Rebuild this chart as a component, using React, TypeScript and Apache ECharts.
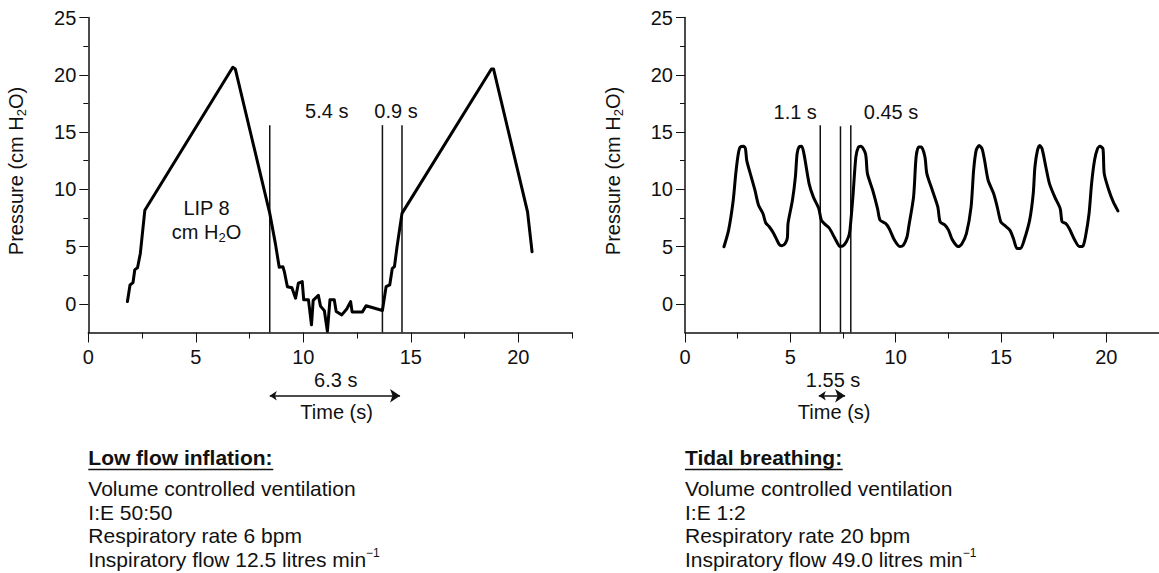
import React, { useEffect, useRef } from 'react';
import * as echarts from 'echarts';

// ---------- data ----------
const leftPressure: number[][] = [
  [1.82, 0.2], [1.94, 1.65], [2.08, 1.86], [2.16, 2.96], [2.29, 3.16], [2.42, 4.4], [2.63, 8.18],
  [6.72, 20.65], [6.84, 20.5], [8.44, 7.9], [8.7, 5.28], [8.88, 3.2], [9.05, 3.25], [9.12, 2.8],
  [9.26, 1.5], [9.47, 1.4], [9.64, 0.5], [9.77, 1.8], [9.95, 1.94], [10.02, 0.35], [10.24, 0.35],
  [10.38, -1.83], [10.46, 0.3], [10.7, 0.75], [10.8, -0.2], [10.98, -0.6], [11.12, -2.4],
  [11.24, 0.35], [11.44, 0.35], [11.53, -0.67], [11.79, -0.96], [12.02, -0.45], [12.2, 0.2],
  [12.27, -0.7], [12.75, -0.7], [12.92, -0.17], [13.68, -0.58], [13.85, 1.5], [14.02, 1.65],
  [14.14, 3.1], [14.24, 3.25], [14.36, 5.0], [14.59, 7.9], [18.75, 20.5], [18.85, 20.5],
  [20.43, 8.03], [20.64, 4.55],
];

const rightPressure: number[][] = [
  [1.85, 4.99], [2.07, 6.44], [2.29, 9.05], [2.41, 11.37], [2.53, 13.1], [2.62, 13.69], [2.79, 13.75],
  [2.87, 13.54], [2.93, 12.53], [3.1, 11.37], [3.32, 9.92], [3.49, 8.61], [3.7, 7.89], [3.83, 7.08],
  [4.0, 6.73], [4.21, 6.15], [4.47, 5.19], [4.6, 5.08], [4.76, 5.28], [4.86, 5.77], [4.89, 7.02],
  [5.1, 9.05], [5.24, 11.08], [5.32, 13.1], [5.41, 13.69], [5.54, 13.75], [5.66, 12.96], [5.89, 10.5],
  [6.09, 9.34], [6.35, 8.32], [6.47, 7.31], [6.64, 6.96], [6.86, 6.58], [7.12, 5.71], [7.37, 5.0],
  [7.55, 5.13], [7.75, 5.8], [7.83, 6.44], [7.97, 9.34], [8.11, 12.82], [8.23, 13.69], [8.35, 13.75],
  [8.57, 13.1], [8.66, 11.37], [8.91, 9.92], [9.14, 8.32], [9.26, 7.31], [9.52, 7.02], [9.69, 6.58],
  [9.94, 5.57], [10.2, 5.0], [10.37, 5.13], [10.54, 5.86], [10.62, 6.73], [10.85, 9.34], [10.97, 12.82],
  [11.09, 13.69], [11.22, 13.69], [11.39, 12.82], [11.48, 11.37], [11.74, 9.92], [12.0, 8.47],
  [12.11, 7.16], [12.34, 6.87], [12.51, 6.44], [12.68, 5.63], [12.97, 5.0], [13.14, 5.22], [13.36, 6.15],
  [13.58, 8.47], [13.7, 11.66], [13.82, 13.4], [13.96, 13.83], [14.1, 13.54], [14.22, 12.53],
  [14.39, 10.79], [14.65, 9.63], [14.82, 8.47], [14.99, 7.16], [15.16, 6.87], [15.42, 6.44],
  [15.59, 5.71], [15.76, 4.84], [15.93, 4.84], [16.1, 5.57], [16.36, 7.31], [16.53, 9.63],
  [16.61, 11.95], [16.73, 13.4], [16.84, 13.83], [16.95, 13.54], [17.13, 11.95], [17.3, 10.5],
  [17.55, 9.34], [17.81, 8.32], [17.9, 7.16], [18.07, 7.02], [18.24, 6.58], [18.5, 5.57], [18.72, 5.0],
  [18.89, 5.05], [19.01, 5.86], [19.18, 7.89], [19.3, 10.5], [19.44, 12.53], [19.58, 13.54],
  [19.7, 13.75], [19.84, 13.54], [19.9, 11.37], [20.12, 9.92], [20.33, 8.9], [20.55, 8.12],
];

const leftMarkers = [8.44, 13.68, 14.59];
const leftMarkerTops = [15.6, 15.6, 15.6];
const rightMarkers = [6.42, 7.38, 7.87];
const rightMarkerTops = [15.6, 15.5, 15.6];

const yMajorTicks = [0, 5, 10, 15, 20, 25];
const yMinorTicks = [2.5, 7.5, 12.5, 17.5, 22.5];
const xMajorTicks = [0, 5, 10, 15, 20];
const xMinorTicks = [2.5, 7.5, 12.5, 17.5, 22.5];

const leftLabels = [
  { x: 11.09, y: 16.8, text: '5.4 s' },
  { x: 14.31, y: 16.8, text: '0.9 s' },
  { x: 5.5, y: 8.35, text: 'LIP 8' },
  { x: 5.5, y: 6.3, text: '{n|cm H}{s|2}{n|O}' },
  { x: 11.51, y: -6.65, text: '6.3 s' },
  { x: 11.55, y: -9.41, text: 'Time (s)' },
];
const rightLabels = [
  { x: 5.23, y: 16.75, text: '1.1 s' },
  { x: 9.78, y: 16.75, text: '0.45 s' },
  { x: 7.03, y: -6.65, text: '1.55 s' },
  { x: 7.08, y: -9.41, text: 'Time (s)' },
];
const leftSpan = [8.44, 14.5, -8.02];
const rightSpan = [6.35, 7.6, -8.02];

const leftTitle = 'Low flow inflation:';
const leftInfo = [
  'Volume controlled ventilation',
  'I:E 50:50',
  'Respiratory rate 6 bpm',
  '{n|Inspiratory flow 12.5 litres min}{sup|−1}',
];
const rightTitle = 'Tidal breathing:';
const rightInfo = [
  'Volume controlled ventilation',
  'I:E 1:2',
  'Respiratory rate 20 bpm',
  '{n|Inspiratory flow 49.0 litres min}{sup|−1}',
];

const FONT = '"Liberation Sans", Arial, Helvetica, sans-serif';
const INK = '#111';

const richSub = {
  n: { fontSize: 20, lineHeight: 24, fontFamily: FONT, color: INK, textBorderWidth: 0 },
  s: { fontSize: 13, lineHeight: 16, verticalAlign: 'bottom', fontFamily: FONT, color: INK, textBorderWidth: 0 },
};

function axesFor(grid: number) {
  const base = { gridIndex: grid, type: 'value', min: 0, max: 22.5, splitLine: { show: false } };
  const xMinor = {
    ...base,
    position: 'bottom',
    axisLine: { onZero: false, lineStyle: { color: INK, width: 1.5 } },
    axisTick: { customValues: xMinorTicks, length: 6, lineStyle: { color: INK, width: 1 } },
    axisLabel: { show: false },
  };
  const xMajor = {
    ...base,
    position: 'bottom',
    axisLine: { show: false, onZero: false },
    axisTick: { customValues: xMajorTicks, length: 10, lineStyle: { color: INK, width: 1 } },
    axisLabel: { customValues: xMajorTicks, fontSize: 20, color: INK, fontFamily: FONT, margin: 14 },
  };
  const ybase = { gridIndex: grid, type: 'value', min: -2.5, max: 25, splitLine: { show: false } };
  const yMinor = {
    ...ybase,
    position: 'left',
    axisLine: { onZero: false, lineStyle: { color: INK, width: 1.5 } },
    axisTick: { customValues: yMinorTicks, length: 5, lineStyle: { color: INK, width: 1 } },
    axisLabel: { show: false },
  };
  const yMajor = {
    ...ybase,
    position: 'left',
    axisLine: { show: false, onZero: false },
    axisTick: { customValues: yMajorTicks, length: 9, lineStyle: { color: INK, width: 1 } },
    axisLabel: { customValues: yMajorTicks, fontSize: 20, color: INK, fontFamily: FONT, margin: 12 },
    name: '{n|Pressure (cm H}{s|2}{n|O)}',
    nameLocation: 'middle',
    nameGap: 60,
    nameTextStyle: { fontSize: 20, color: INK, fontFamily: FONT, rich: richSub, padding: [0, 0, 0, 8] },
  };
  return { x: [xMinor, xMajor], y: [yMinor, yMajor] };
}

function seriesFor(
  axisIdx: number,
  data: number[][],
  smooth: number | boolean,
  markers: number[],
  tops: number[],
  labels: { x: number; y: number; text: string }[],
  span: number[],
) {
  const ax = { xAxisIndex: axisIdx, yAxisIndex: axisIdx };
  const out: any[] = [
    {
      ...ax,
      type: 'line',
      data,
      smooth,
      symbol: 'none',
      clip: false,
      lineStyle: { color: '#000', width: 3, join: 'round', cap: 'round' },
      z: 3,
    },
  ];
  markers.forEach((m, i) => {
    out.push({
      ...ax,
      type: 'line',
      data: [[m, -2.5], [m, tops[i]]],
      symbol: 'none',
      clip: false,
      lineStyle: { color: INK, width: 1.5 },
      z: 2,
    });
  });
  out.push({
    ...ax,
    type: 'scatter',
    clip: false,
    symbolSize: 1,
    itemStyle: { color: 'rgba(0,0,0,0)' },
    data: labels.map((l) => ({ value: [l.x, l.y], name: l.text })),
    label: {
      show: true,
      position: 'inside',
      formatter: '{b}',
      fontSize: 20,
      color: INK,
      opacity: 1,
      textBorderWidth: 0,
      textBorderColor: 'transparent',
      fontFamily: FONT,
      rich: richSub,
    },
    z: 4,
  });
  out.push({
    ...ax,
    type: 'lines',
    coordinateSystem: 'cartesian2d',
    clip: false,
    symbol: ['arrow', 'arrow'],
    symbolSize: [7, 10],
    lineStyle: { color: INK, width: 1.5, opacity: 1 },
    data: [{ coords: [[span[0], span[2]], [span[1], span[2]]] }],
  });
  return out;
}

function infoBlock(x: number, underlineEnd: number, title: string, lines: string[]) {
  const els: any[] = [
    {
      type: 'text',
      x,
      y: 457,
      style: { text: title, fontSize: 21, fontWeight: 'bold', fontFamily: FONT, fill: INK, align: 'left', verticalAlign: 'middle' },
    },
    { type: 'line', shape: { x1: x, y1: 469.5, x2: underlineEnd, y2: 469.5 }, style: { stroke: INK, lineWidth: 1.5 } },
  ];
  lines.forEach((t, i) => {
    els.push({
      type: 'text',
      x,
      y: 488.5 + i * 23.5,
      style: {
        text: t,
        fontSize: 21,
        fontFamily: FONT,
        fill: INK,
        align: 'left',
        verticalAlign: 'middle',
        rich: {
          n: { fontSize: 21, lineHeight: 24, fontFamily: FONT, fill: INK },
          sup: { fontSize: 12, lineHeight: 17, verticalAlign: 'top', fontFamily: FONT, fill: INK },
        },
      },
    });
  });
  return els;
}

export default function App() {
  const ref = useRef<HTMLDivElement>(null);
  useEffect(() => {
    if (!ref.current) return;
    const chart = echarts.init(ref.current, undefined, { renderer: 'svg' });
    const a0 = axesFor(0);
    const a1 = axesFor(1);
    chart.setOption({
      animation: false,
      backgroundColor: '#fff',
      textStyle: { fontFamily: FONT },
      grid: [
        { left: 88.3, top: 17.5, width: 483.75, height: 315 },
        { left: 685, top: 17.5, width: 483.75, height: 315 },
      ],
      // index 0/1: left grid (minor/major), 2/3: right grid
      xAxis: [a0.x[0], a0.x[1], a1.x[0], a1.x[1]],
      yAxis: [a0.y[0], a0.y[1], a1.y[0], a1.y[1]],
      series: [
        ...seriesFor(0, leftPressure, false, leftMarkers, leftMarkerTops, leftLabels, leftSpan),
        ...seriesFor(2, rightPressure, 0.25, rightMarkers, rightMarkerTops, rightLabels, rightSpan),
      ],
      graphic: [
        ...infoBlock(88.3, 273.3, leftTitle, leftInfo),
        ...infoBlock(685, 842.7, rightTitle, rightInfo),
      ],
    });
    return () => chart.dispose();
  }, []);
  return (
    <div
      ref={ref}
      style={{ position: 'absolute', left: 0, top: 0, width: 1159, height: 573, background: '#fff' }}
    />
  );
}
